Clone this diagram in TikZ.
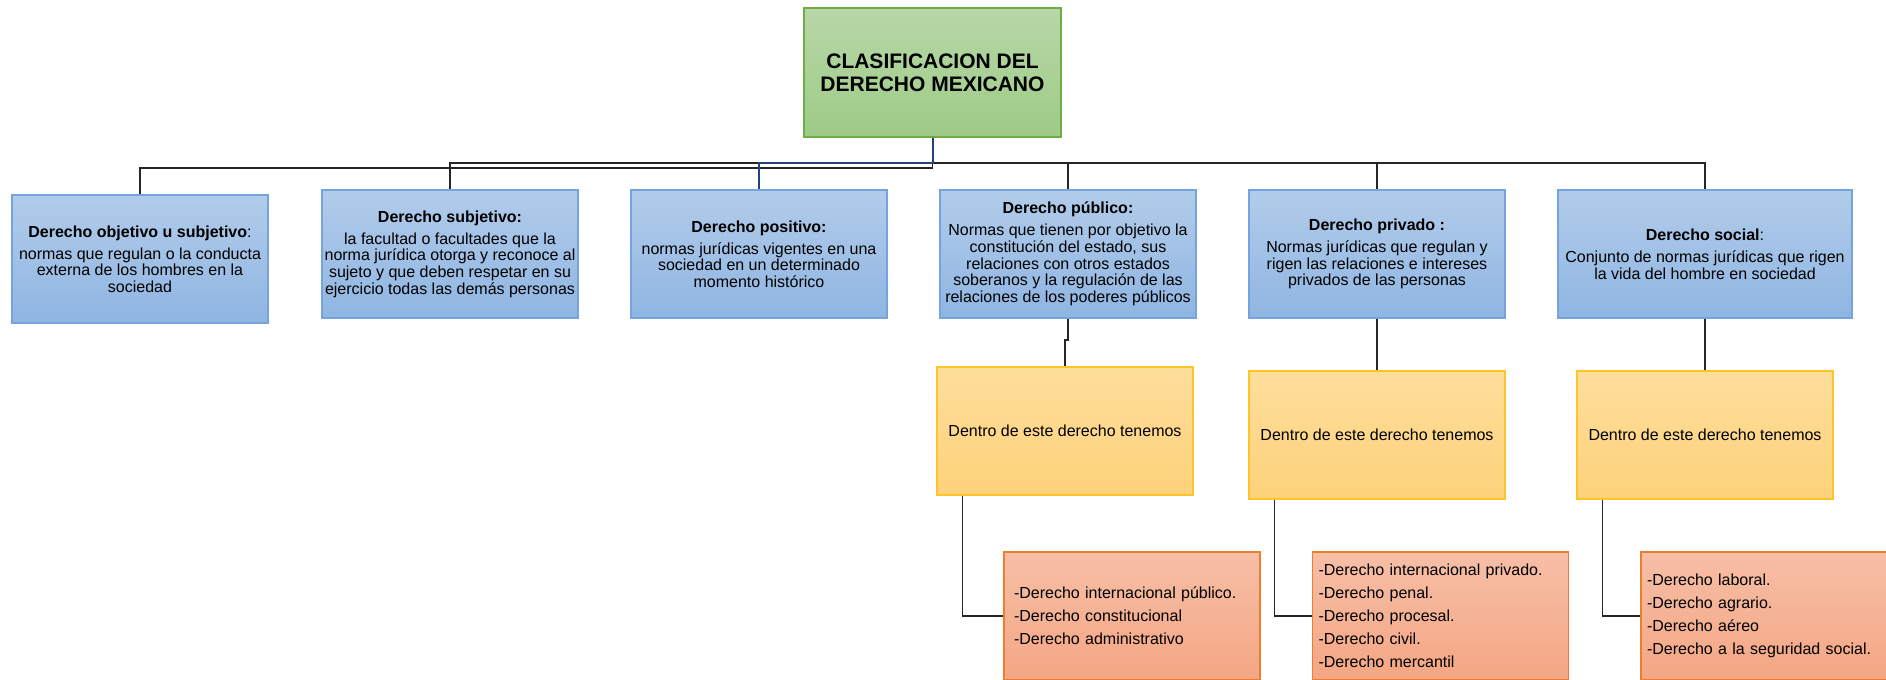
\documentclass[tikz,border=0pt]{standalone}
\usepackage{fontspec}
\setmainfont{Liberation Sans}
\usetikzlibrary{calc}
\definecolor{grtop}{RGB}{184,215,167}
\definecolor{grbot}{RGB}{157,203,135}
\definecolor{grdraw}{RGB}{112,173,71}
\definecolor{bltop}{RGB}{178,204,234}
\definecolor{blbot}{RGB}{143,181,226}
\definecolor{bldraw}{RGB}{116,163,222}
\definecolor{yetop}{RGB}{254,222,156}
\definecolor{yebot}{RGB}{253,210,122}
\definecolor{yedraw}{RGB}{254,196,40}
\definecolor{ortop}{RGB}{246,191,167}
\definecolor{orbot}{RGB}{244,166,131}
\definecolor{ordraw}{RGB}{237,125,49}
\definecolor{connc}{RGB}{38,38,38}
\definecolor{navyc}{RGB}{36,64,128}
\begin{document}
\begin{tikzpicture}[x=0.75pt,y=-0.75pt,
  rootbox/.style={draw=grdraw,line width=0.9pt,top color=grtop,bottom color=grbot,
    minimum width=192.75pt,minimum height=96.75pt,inner sep=2pt,align=center,
    font=\fontsize{15.75}{17}\selectfont\bfseries},
  bluebox/.style={draw=bldraw,line width=0.9pt,top color=bltop,bottom color=blbot,
    minimum width=192pt,minimum height=96pt,inner sep=2pt,align=center,
    font=\fontsize{12}{12.5}\selectfont},
  yellowbox/.style={draw=yedraw,line width=0.9pt,top color=yetop,bottom color=yebot,
    minimum width=192pt,minimum height=96pt,inner sep=2pt,align=center,
    font=\fontsize{12}{14}\selectfont},
  orangebox/.style={draw=ordraw,line width=0.9pt,top color=ortop,bottom color=orbot,
    minimum height=96pt,inner ysep=2pt,align=left,
    font=\fontsize{12}{17.25}\selectfont},
  conn/.style={draw=connc,line width=1pt},
  navyconn/.style={draw=navyc,line width=1.5pt}]
\useasboundingbox (0,0) rectangle (1886,680);
\clip (0,0) rectangle (1886,680);

\node[rootbox] (root) at (932.5,72.5) {CLASIFICACION DEL\\DERECHO MEXICANO};

\node[bluebox] (b1) at (140,259) {\textbf{Derecho objetivo u subjetivo}:\\[4pt]normas que regulan o la conducta\\externa de los hombres en la\\sociedad};
\node[bluebox] (b2) at (450,254) {\textbf{Derecho subjetivo:}\\[4pt]la facultad o facultades que la\\norma jurídica otorga y reconoce al\\sujeto y que deben respetar en su\\ejercicio todas las demás personas};
\node[bluebox] (b3) at (759,254) {\textbf{Derecho positivo:}\\[4pt]normas jurídicas vigentes en una\\sociedad en un determinado\\momento histórico};
\node[bluebox] (b4) at (1068,254) {\textbf{Derecho público:}\\[4pt]Normas que tienen por objetivo la\\constitución del estado, sus\\relaciones con otros estados\\soberanos y la regulación de las\\relaciones de los poderes públicos};
\node[bluebox] (b5) at (1377,254) {\textbf{Derecho privado :}\\[4pt]Normas jurídicas que regulan y\\rigen las relaciones e intereses\\privados de las personas};
\node[bluebox,minimum width=220.5pt] (b6) at (1705,254) {\textbf{Derecho social}:\\[4pt]Conjunto de normas jurídicas que rigen\\la vida del hombre en sociedad};

\node[yellowbox] (y1) at (1065,431) {Dentro de este derecho tenemos};
\node[yellowbox] (y2) at (1377,435) {Dentro de este derecho tenemos};
\node[yellowbox] (y3) at (1705,435) {Dentro de este derecho tenemos};

\node[orangebox,inner xsep=7.5pt,text width=177pt] (o1) at (1132,616) {-Derecho internacional público.\\-Derecho constitucional\\-Derecho administrativo};
\node[orangebox,inner xsep=4.5pt,text width=183pt] (o2) at (1440.5,616) {-Derecho internacional privado.\\-Derecho penal.\\-Derecho procesal.\\-Derecho civil.\\-Derecho mercantil};
\node[orangebox,inner xsep=4.5pt,text width=183pt] (o3) at (1769,616) {-Derecho laboral.\\-Derecho agrario.\\-Derecho aéreo\\-Derecho a la seguridad social.};

\coordinate (busA) at (0,168);
\coordinate (busB) at (0,163);
\coordinate (jog) at (0,340);

\draw[conn] (root.south) |- (b1.north |- busA) -- (b1.north);
\draw[conn] (root.south) |- (b2.north |- busB) -- (b2.north);
\draw[conn] (root.south) |- (b4.north |- busB) -- (b4.north);
\draw[conn] (root.south) |- (b5.north |- busB) -- (b5.north);
\draw[conn] (root.south) |- (b6.north |- busB) -- (b6.north);
\draw[navyconn] (root.south) |- (b3.north |- busB) -- (b3.north);

\draw[conn] (b4.south) -- (b4.south |- jog) -| (y1.north);
\draw[conn] (b5.south) -- (y2.north);
\draw[conn] (b6.south) -- (y3.north);

\draw[conn] ($(y1.south west)+(26,0)$) |- (o1.west);
\draw[conn] ($(y2.south west)+(26,0)$) |- (o2.west);
\draw[conn] ($(y3.south west)+(26,0)$) |- (o3.west);
\end{tikzpicture}
\end{document}
